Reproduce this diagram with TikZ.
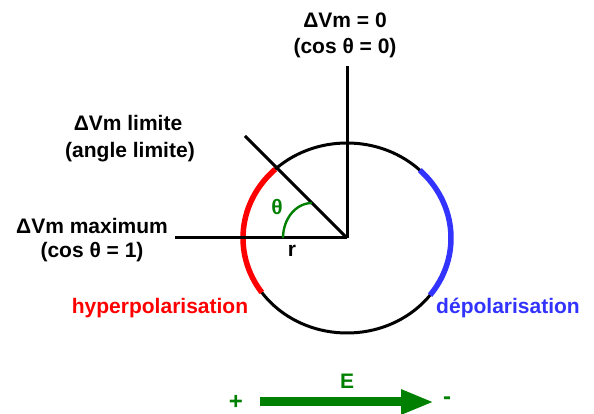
\documentclass[tikz,border=0pt]{standalone}
\usepackage{fontspec}
\setmainfont{Liberation Sans}
\usetikzlibrary{arrows.meta}

\definecolor{hypred}{RGB}{255,0,0}
\definecolor{depblue}{RGB}{51,51,255}
\definecolor{fieldgreen}{RGB}{0,128,0}

\begin{document}
\begin{tikzpicture}[x=1pt,y=1pt]
\tikzset{
  labeltext/.style={inner sep=0pt,font=\fontsize{21}{25}\selectfont\bfseries,align=center},
  signtext/.style={labeltext,text=fieldgreen,font=\fontsize{24}{28}\selectfont\bfseries},
  axisline/.style={draw=black,line width=3pt},
  membrane/.style={draw=black,line width=3pt},
  signarc/.style={line width=5.5pt},
  anglearc/.style={draw=fieldgreen,line width=2.4pt},
  fieldarrow/.style={draw=fieldgreen,line width=9pt,-{Triangle[length=33pt,width=23pt]}}
}
\useasboundingbox (0,0) rectangle (594,414);
\coordinate (c_O) at (347,176);
\coordinate (c_top) at (347,348);
\coordinate (c_left) at (175,176);
\coordinate (c_diag) at (245,278);
\coordinate (c_Estart) at (260,12);
\coordinate (c_Eend) at (434,12);
% membrane and axes
\draw[membrane] (c_O) ellipse [x radius=104, y radius=95];
\draw[signarc,draw=hypred] (c_O) ++(133.6:104 and 95) arc[start angle=133.6, end angle=215, x radius=104, y radius=95];
\draw[signarc,draw=depblue] (c_O) ++(45.6:104 and 95) arc[start angle=45.6, end angle=-37, x radius=104, y radius=95];
\draw[axisline] (c_O) -- (c_top);
\draw[axisline] (c_O) -- (c_left);
\draw[axisline] (c_O) -- (c_diag);
\draw[anglearc] (283,176) arc[start angle=180, end angle=90, x radius=29, y radius=35];
% labels
\node[labeltext] (n_zero) at (345,394) {ΔVm = 0};
\node[labeltext] (n_cos0) at (345,366) {(cos θ = 0)};
\node[labeltext] (n_lim) at (128,291) {ΔVm limite};
\node[labeltext] (n_anglim) at (130,262) {(angle limite)};
\node[labeltext] (n_max) at (92,188) {ΔVm maximum};
\node[labeltext] (n_cos1) at (92,162) {(cos θ = 1)};
\node[labeltext] (n_r) at (292,163) {r};
\node[labeltext,text=fieldgreen] (n_theta) at (277,207) {θ};
\node[labeltext,text=hypred] (n_hyper) at (160,106) {hyperpolarisation};
\node[labeltext,text=depblue] (n_depol) at (508,106) {dépolarisation};
% field
\draw[fieldarrow] (c_Estart) -- (c_Eend);
\node[labeltext,text=fieldgreen] (n_E) at (347,33) {E};
\node[signtext] (n_plus) at (236,12) {+};
\node[signtext] (n_minus) at (447,13) {-};
\end{tikzpicture}
\end{document}
